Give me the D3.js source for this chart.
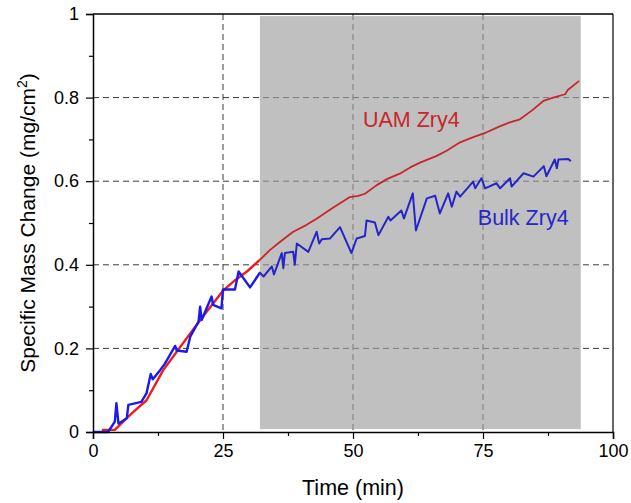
<!DOCTYPE html>
<html>
<head>
<meta charset="utf-8">
<script src="https://cdn.jsdelivr.net/npm/d3@7"></script>
<style>
  body { margin: 0; background: #fff; }
  text { font-family: "Liberation Sans", Arial, sans-serif; }
</style>
</head>
<body>
<div id="chart"></div>
<script>
// UAM Zry4 (time in min, specific mass change in mg/cm2)
const uamTime = [1.7, 4.2, 5.8, 7.5, 10.3, 13.5, 16, 18.7, 22, 25, 27.5, 29.6, 32.1, 34, 36, 38.5, 41, 43, 46, 49.4, 51, 52.3, 54.5, 56.5, 59, 61, 63, 66, 68, 70.6, 73, 75.7, 78, 80, 82.1, 84.5, 86.6, 88.5, 90.8, 91.3, 93.5];
const uamMass = [0.005, 0.005, 0.025, 0.045, 0.076, 0.148, 0.19, 0.236, 0.29, 0.338, 0.365, 0.384, 0.412, 0.435, 0.455, 0.479, 0.495, 0.51, 0.535, 0.562, 0.565, 0.57, 0.59, 0.605, 0.618, 0.633, 0.645, 0.66, 0.673, 0.693, 0.705, 0.717, 0.73, 0.74, 0.748, 0.77, 0.792, 0.8, 0.808, 0.818, 0.84];

// Bulk Zry4
const bulkTime = [0, 2.9, 4.2, 4.5, 4.9, 6.5, 6.8, 9.3, 10.3, 11.1, 11.5, 12.9, 13.8, 15.8, 16.1, 18, 18.7, 20.3, 20.6, 20.9, 22.8, 23.1, 24.7, 25, 27.3, 28, 30.2, 32.1, 32.8, 34.4, 34.8, 36.3, 36.6, 36.9, 38.5, 38.8, 39.2, 41.4, 43, 43.5, 44, 45.6, 47.5, 49.7, 50.7, 52.3, 52.6, 54.2, 54.9, 56.8, 57.2, 59.3, 59.8, 61.5, 62.1, 64.2, 65.8, 66.7, 68.3, 69, 69.9, 70.6, 73.1, 73.5, 74.7, 75.4, 77.6, 78.3, 80.2, 80.5, 82.8, 84.7, 86.7, 87.2, 88.8, 89.2, 89.5, 91.4, 91.9];
const bulkMass = [0, 0, 0.025, 0.069, 0.02, 0.033, 0.065, 0.072, 0.093, 0.139, 0.126, 0.148, 0.163, 0.206, 0.195, 0.192, 0.228, 0.264, 0.3, 0.268, 0.324, 0.304, 0.296, 0.341, 0.341, 0.384, 0.346, 0.381, 0.372, 0.396, 0.377, 0.428, 0.392, 0.428, 0.431, 0.4, 0.451, 0.431, 0.479, 0.451, 0.461, 0.463, 0.49, 0.428, 0.463, 0.469, 0.506, 0.501, 0.471, 0.515, 0.506, 0.53, 0.511, 0.571, 0.482, 0.559, 0.565, 0.523, 0.571, 0.539, 0.575, 0.563, 0.599, 0.583, 0.607, 0.583, 0.595, 0.583, 0.607, 0.587, 0.619, 0.611, 0.636, 0.612, 0.652, 0.631, 0.652, 0.653, 0.648];

// shaded time window [x0, x1] and mass extent [y0, y1]
const shadeTime = [32.1, 93.8];
const shadeMass = [0.007, 0.995];

const xTicks = [0, 25, 50, 75, 100];
const xMinor = [12.5, 37.5, 62.5, 87.5];
const yTicks = [0, 0.2, 0.4, 0.6, 0.8, 1];
const yMinor = [0.1, 0.3, 0.5, 0.7, 0.9];
const xGrid = [25, 50, 75];
const yGrid = [0.2, 0.4, 0.6, 0.8];

const width = 631;
const height = 503;
const margin = { top: 14, right: 18, bottom: 71, left: 93 };
const plotW = width - margin.left - margin.right;
const plotH = height - margin.top - margin.bottom;

const svg = d3.select('#chart')
  .append('svg')
  .attr('width', width)
  .attr('height', height);

const x = d3.scaleLinear().domain([0, 100]).range([0, plotW]);
const y = d3.scaleLinear().domain([0, 1]).range([plotH, 0]);

const g = svg.append('g')
  .attr('transform', `translate(${margin.left},${margin.top})`);

// clip paths: inside the shaded box, and the rest of the plot
const rx0 = x(shadeTime[0]);
const rx1 = x(shadeTime[1]);
const ry0 = y(shadeMass[1]);
const ry1 = y(shadeMass[0]);
const defs = svg.append('defs');
defs.append('clipPath').attr('id', 'clip-in')
  .append('rect')
  .attr('x', rx0).attr('y', ry0)
  .attr('width', rx1 - rx0).attr('height', ry1 - ry0);
defs.append('clipPath').attr('id', 'clip-out')
  .append('path')
  .attr('clip-rule', 'evenodd')
  .attr('d', `M-5,-5H${plotW + 5}V${plotH + 5}H-5Z M${rx0},${ry0}H${rx1}V${ry1}H${rx0}Z`);

// shaded region
g.append('rect')
  .attr('x', rx0)
  .attr('y', ry0)
  .attr('width', rx1 - rx0)
  .attr('height', ry1 - ry0)
  .attr('fill', '#c0c0c0');

// grid lines, darker outside the box, lighter inside
function drawGrid(clipId, color) {
  const grid = g.append('g').attr('clip-path', `url(#${clipId})`);
  grid.selectAll('.vgrid')
    .data(xGrid)
    .enter()
    .append('line')
    .attr('x1', d => x(d)).attr('x2', d => x(d))
    .attr('y1', 0).attr('y2', plotH)
    .attr('stroke', color)
    .attr('stroke-width', 1)
    .attr('stroke-dasharray', '6,4');
  grid.selectAll('.hgrid')
    .data(yGrid)
    .enter()
    .append('line')
    .attr('x1', 0).attr('x2', plotW)
    .attr('y1', d => y(d)).attr('y2', d => y(d))
    .attr('stroke', color)
    .attr('stroke-width', 1)
    .attr('stroke-dasharray', '6,4');
}
drawGrid('clip-out', '#3a3a3a');
drawGrid('clip-in', '#7a7a7a');

// data lines
const line = d3.line()
  .x(d => x(d[0]))
  .y(d => y(d[1]));

const uam = uamTime.map((t, i) => [t, uamMass[i]]);
const bulk = bulkTime.map((t, i) => [t, bulkMass[i]]);

function drawSeries(data, clipId, color, w) {
  g.append('path')
    .datum(data)
    .attr('clip-path', `url(#${clipId})`)
    .attr('d', line)
    .attr('fill', 'none')
    .attr('stroke', color)
    .attr('stroke-width', w)
    .attr('stroke-linejoin', 'round');
}
drawSeries(uam, 'clip-out', '#ee1c1c', 2.4);
drawSeries(bulk, 'clip-out', '#1a1aee', 2.4);
drawSeries(uam, 'clip-in', '#c8262b', 1.8);
drawSeries(bulk, 'clip-in', '#2626c8', 2);

// frame: top and right
g.append('line')
  .attr('x1', 0).attr('x2', plotW).attr('y1', 0).attr('y2', 0)
  .attr('stroke', '#000').attr('stroke-width', 1.5);
g.append('line')
  .attr('x1', plotW).attr('x2', plotW).attr('y1', 0).attr('y2', plotH)
  .attr('stroke', '#000').attr('stroke-width', 1.2);

// axes
const xAxis = g.append('g')
  .attr('transform', `translate(0,${plotH})`)
  .call(d3.axisBottom(x).tickValues(xTicks).tickSize(7).tickPadding(5).tickFormat(d3.format('d')));
const xAxisMinor = g.append('g')
  .attr('transform', `translate(0,${plotH})`)
  .call(d3.axisBottom(x).tickValues(xMinor).tickSize(4).tickFormat(''));
const yAxis = g.append('g')
  .call(d3.axisLeft(y).tickValues(yTicks).tickSize(7).tickPadding(7).tickFormat(d => d === 0 || d === 1 ? d3.format('d')(d) : d3.format('.1f')(d)));
const yAxisMinor = g.append('g')
  .call(d3.axisLeft(y).tickValues(yMinor).tickSize(4).tickFormat(''));

[xAxis, xAxisMinor, yAxis, yAxisMinor].forEach(a => {
  a.select('.domain').attr('stroke', '#000').attr('stroke-width', 1.5);
  a.selectAll('.tick line').attr('stroke', '#000').attr('stroke-width', 1.2);
  a.selectAll('.tick text')
    .attr('fill', '#000')
    .style('font-size', '18px')
    .style('font-family', '"Liberation Sans", Arial, sans-serif');
});
xAxisMinor.select('.domain').remove();
yAxisMinor.select('.domain').remove();

// axis titles
svg.append('text')
  .attr('x', margin.left + plotW / 2)
  .attr('y', 495)
  .attr('text-anchor', 'middle')
  .style('font-size', '21.5px')
  .text('Time (min)');

const yTitle = svg.append('text')
  .attr('transform', `translate(35,${margin.top + plotH / 2}) rotate(-90)`)
  .attr('text-anchor', 'middle')
  .style('font-size', '21px');
yTitle.append('tspan').text('Specific Mass Change (mg/cm');
yTitle.append('tspan').attr('dy', -8).style('font-size', '14px').text('2');
yTitle.append('tspan').attr('dy', 8).text(')');

// series labels
g.append('text')
  .attr('x', x(51.9))
  .attr('y', y(0.73))
  .attr('fill', '#c8262b')
  .style('font-size', '21.5px')
  .text('UAM Zry4');
g.append('text')
  .attr('x', x(74))
  .attr('y', y(0.495))
  .attr('fill', '#2626c8')
  .style('font-size', '21.5px')
  .text('Bulk Zry4');
</script>
</body>
</html>
